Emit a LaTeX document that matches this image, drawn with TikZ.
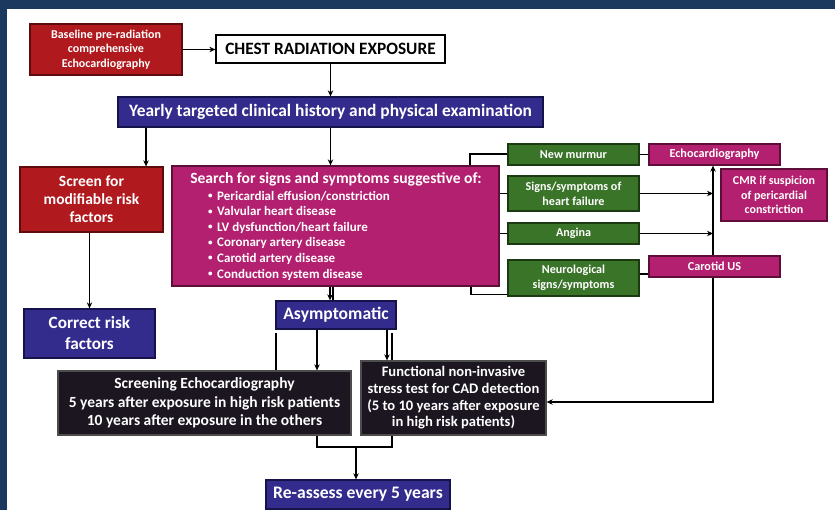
\documentclass[tikz,border=0pt]{standalone}
\usepackage{fontspec}
\setmainfont{Carlito}
\usetikzlibrary{arrows.meta,shadows}
\definecolor{navy}{HTML}{1B395E}
\definecolor{cred}{HTML}{B0191D}
\definecolor{credd}{HTML}{5E0B0D}
\definecolor{cblue}{HTML}{332C8C}
\definecolor{cblued}{HTML}{16134A}
\definecolor{cmag}{HTML}{B3206F}
\definecolor{cmagd}{HTML}{5E0F39}
\definecolor{cgreen}{HTML}{3A7428}
\definecolor{cgreend}{HTML}{1C3A12}
\definecolor{cblack}{HTML}{1C1620}
\newcommand\myfs[2]{\fontsize{#1}{#2}\selectfont\bfseries}
\newcommand\mybul{\raisebox{0.12em}{\fontsize{9}{9}\selectfont\textbullet}\hspace{0.35em}}
\tikzset{
  box/.style={draw, line width=1.3pt, inner sep=0pt, align=center, text=white,
    drop shadow={opacity=0.35, shadow xshift=1.3pt, shadow yshift=-1.3pt}},
  redbox/.style={box, fill=cred, draw=credd},
  bluebox/.style={box, fill=cblue, draw=cblued},
  magbox/.style={box, fill=cmag, draw=cmagd},
  greenbox/.style={box, fill=cgreen, draw=cgreend},
  blackbox/.style={box, fill=cblack, draw=black!70},
  whitebox/.style={draw=black, line width=1.3pt, fill=white, inner sep=0pt, text=black, align=center},
  txt/.style={inner sep=0pt, text=white},
  arr/.style={-{Stealth[length=6pt,width=5.5pt]}, line width=1.3pt},
  ln/.style={line width=1.3pt},
}
\begin{document}
\begin{tikzpicture}[x=1pt,y=-1pt]
\useasboundingbox (0,0) rectangle (835,510);
\fill[white] (0,0) rectangle (835,510);
\fill[navy] (0,0) rectangle (835,9.5);
\fill[navy] (0,0) rectangle (7,510);

% nodes
\node[redbox, minimum width=152pt, minimum height=51pt, font=\myfs{12}{14.5}] (base) at (106,49.5) {Baseline pre-radiation\\comprehensive\\Echocardiography};
\node[whitebox, minimum width=229pt, minimum height=28pt, font=\myfs{17.3}{20}] (chest) at (330.5,49) {CHEST RADIATION EXPOSURE};
\node[bluebox, minimum width=425pt, minimum height=30pt, font=\myfs{17.4}{20}] (yearly) at (330.5,112) {Yearly targeted clinical history and physical examination};
\node[redbox, minimum width=143pt, minimum height=65pt, font=\myfs{15.5}{18}] (screen) at (91.5,199.5) {Screen for\\modifiable risk\\factors};
\node[bluebox, minimum width=131pt, minimum height=49pt, font=\myfs{17.2}{21}] (correct) at (89.5,333.5) {Correct risk\\factors};
\node[magbox, minimum width=327pt, minimum height=120pt] (search) at (335.5,226) {};
\node[txt, font=\myfs{15.6}{16}] (stitle) at (336,179.5) {Search for signs and symptoms suggestive of:};
\node[txt, anchor=west, align=left, font=\myfs{13}{15.6}] (slist) at (208,235.5) {%
\mybul Pericardial effusion/constriction\\
\mybul Valvular heart disease\\
\mybul LV dysfunction/heart failure\\
\mybul Coronary artery disease\\
\mybul Carotid artery disease\\
\mybul Conduction system disease};
\node[bluebox, minimum width=120pt, minimum height=28pt, font=\myfs{17.6}{18}] (asym) at (336,315) {Asymptomatic};
\node[blackbox, minimum width=293pt, minimum height=64pt, font=\myfs{15.5}{18.5}] (screening) at (204.5,403) {Screening Echocardiography\\5 years after exposure in high risk patients\\10 years after exposure in the others};
\node[blackbox, minimum width=185pt, minimum height=74pt, font=\myfs{14.6}{16.7}] (functional) at (453.5,398) {Functional non-invasive\\stress test for CAD detection\\(5 to 10 years after exposure\\in high risk patients)};
\node[bluebox, minimum width=184pt, minimum height=29pt, font=\myfs{17.6}{18}] (reassess) at (358,494.5) {Re-assess every 5 years};
\node[greenbox, minimum width=131pt, minimum height=21pt, font=\myfs{12.1}{15}] (murmur) at (573.5,154.5) {New murmur};
\node[greenbox, minimum width=131pt, minimum height=35pt, font=\myfs{12.1}{15}] (hf) at (573.5,193.5) {Signs/symptoms of\\heart failure};
\node[greenbox, minimum width=131pt, minimum height=21pt, font=\myfs{12.1}{15}] (angina) at (573.5,233.5) {Angina};
\node[greenbox, minimum width=131pt, minimum height=36pt, font=\myfs{12.1}{15}] (neuro) at (573.5,278) {Neurological\\signs/symptoms};
\node[magbox, minimum width=131pt, minimum height=21pt, font=\myfs{12.2}{15}] (echo) at (714.5,154.5) {Echocardiography};
\node[magbox, minimum width=131pt, minimum height=21pt, font=\myfs{12.2}{15}] (carotid) at (714.5,266.5) {Carotid US};
\node[magbox, minimum width=106pt, minimum height=52pt, font=\myfs{12}{14.5}] (cmr) at (774,195) {CMR if suspicion\\of pericardial\\constriction};

% helper coordinates
\coordinate (xs) at (146,0);
\coordinate (xa) at (330,0);
\coordinate (xa2) at (333,0);
\coordinate (xl) at (276,0);
\coordinate (xe) at (317,0);
\coordinate (xf) at (387,0);
\coordinate (xf2) at (392,0);
\coordinate (xm) at (356,0);
\coordinate (ym) at (0,447);
\coordinate (yt) at (0,333);
\coordinate (xb1) at (470,0);
\coordinate (xb2) at (471,0);
\coordinate (yb1) at (0,154);
\coordinate (yb2) at (0,294.5);
\coordinate (xv) at (713,0);
\coordinate (yv) at (0,402);
\coordinate (yn) at (0,274);

% connectors
\draw[arr] (base.east) -- (base.east -| chest.west);
\draw[arr] (chest.south) -- (yearly.north);
\draw[arr] (yearly.south -| xs) -- (screen.north -| xs);
\draw[arr] (yearly.south) -- (yearly.south |- search.north);
\draw[arr] (correct.north |- screen.south) -- (correct.north);
\draw[arr] (search.south -| xa) -- (asym.north -| xa);
\draw[ln] (search.south -| xa2) -- (asym.north -| xa2);
\draw[ln] (xl |- yt) -- (screening.north -| xl);
\draw[arr] (asym.south -| xe) -- (screening.north -| xe);
\draw[arr] (asym.south -| xf) -- (functional.north -| xf);
\draw[ln] (xf2 |- yt) -- (functional.north -| xf2);
\draw[ln] (screening.south -| xe) -- (xe |- ym) -- (xf2 |- ym) -- (functional.south -| xf2);
\draw[arr] (xm |- ym) -- (reassess.north -| xm);
\draw[ln] (search.north -| xb1) -- (xb1 |- yb1) -- (murmur.west |- yb1);
\draw[ln] (search.east |- hf.west) -- (hf.west);
\draw[ln] (search.east |- angina.west) -- (angina.west);
\draw[ln] (search.south -| xb2) -- (xb2 |- yb2) -- (neuro.west |- yb2);
\draw[ln] (murmur.east) -- (echo.west);
\draw[ln] (neuro.east |- yn) -- (carotid.west |- yn);
\draw[arr] (hf.east) -- (hf.east -| xv);
\draw[arr] (angina.east) -- (angina.east -| xv);
\draw[arr] (carotid.north -| xv) -- (echo.south -| xv);
\draw[arr] (carotid.south -| xv) -- (xv |- yv) -- (functional.east |- yv);
\end{tikzpicture}
\end{document}
